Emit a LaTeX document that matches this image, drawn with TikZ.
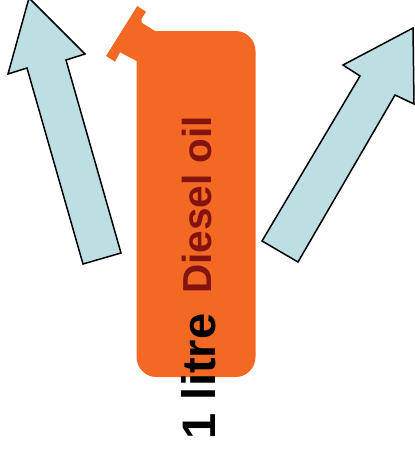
\documentclass[tikz,border=0pt]{standalone}
\usepackage{fontspec}
\setmainfont{Liberation Sans}
\definecolor{canO}{HTML}{F36923}
\definecolor{arrowB}{HTML}{BDDFE3}
\definecolor{labR}{HTML}{82130F}
\tikzset{
 bigarrow/.style={draw=black,fill=arrowB,line width=1.5pt,line join=miter},
 canbody/.style={fill=canO,draw=none},
 lab/.style={rotate=90,inner sep=0pt,anchor=base}
}
\begin{document}
\begin{tikzpicture}[x=1pt,y=-1pt]
\useasboundingbox (0,0) rectangle (415,450);
\fill[canbody] (137.3,6) -- (146,11.7) -- (141.7,18.5) -- (141.7,22.7) -- (155,31) -- (155,60) -- (136.7,61) -- (120,52.3) -- (115,61.7) -- (106,56) -- cycle;
\fill[canbody,rounded corners=20pt] (136.5,31) rectangle (255.5,377);
\node[lab,text=labR,font=\bfseries\fontsize{40.5}{44}\selectfont] (diesel) at (211,205) {Diesel oil};
\node[lab,text=black,font=\bfseries\fontsize{47}{50}\selectfont] (litre) at (215.5,376.5) {1 litre};
\draw[bigarrow] (83,264) -- (121,253) -- (66,60) -- (85,54) -- (29,-2) -- (8,74) -- (27,68) -- cycle;
\draw[bigarrow] (262,241) -- (298,262) -- (395,95) -- (414,104) -- (413,28) -- (343,65) -- (360,76) -- cycle;
\end{tikzpicture}
\end{document}
